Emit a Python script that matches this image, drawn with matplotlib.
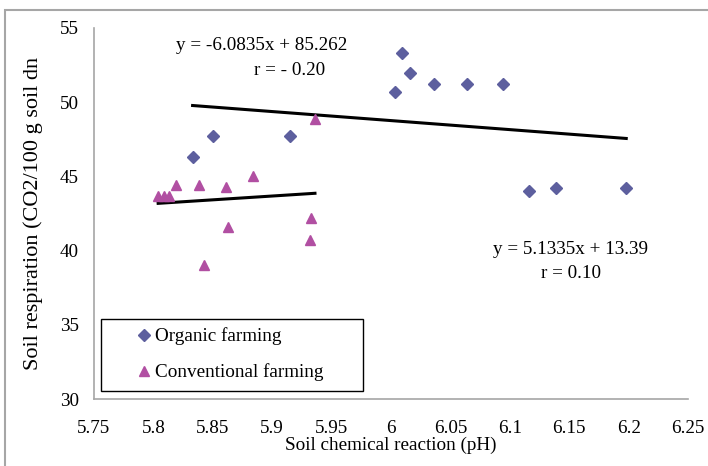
import numpy as np
import matplotlib.pyplot as plt
from matplotlib.patches import Rectangle

plt.rcParams['font.family'] = ['Liberation Serif', 'DejaVu Serif']

# --- data ---
org_ph = [5.833, 5.850, 5.915, 6.003, 6.009, 6.016, 6.036, 6.064, 6.094, 6.116, 6.139, 6.198]
org_resp = [46.3, 47.7, 47.7, 50.7, 53.3, 52.0, 51.2, 51.2, 51.2, 44.0, 44.2, 44.2]

conv_ph = [5.804, 5.809, 5.813, 5.819, 5.838, 5.861, 5.884, 5.936, 5.933, 5.932, 5.863, 5.843]
conv_resp = [43.7, 43.7, 43.7, 44.4, 44.4, 44.3, 45.0, 48.9, 42.2, 40.7, 41.6, 39.05]

# trend lines as printed on the chart
org_fit = (-6.0835, 85.262)
conv_fit = (5.1335, 13.39)

xticks = [5.75, 5.8, 5.85, 5.9, 5.95, 6, 6.05, 6.1, 6.15, 6.2, 6.25]
xtick_labels = ['5.75', '5.8', '5.85', '5.9', '5.95', '6', '6.05', '6.1', '6.15', '6.2', '6.25']
yticks = [30, 35, 40, 45, 50, 55]

fs = 13.8
grey = '#a6a6a6'

W, H = 708, 466
fig = plt.figure(figsize=(W / 100, H / 100), dpi=100)
ax = fig.add_axes([94 / W, 67 / H, 594 / W, 371 / H])

# outer chart frame
fig.patches.append(Rectangle((5 / W, -0.1), 1.2, 1 - 10 / H + 0.1, transform=fig.transFigure,
                             fill=False, edgecolor=grey, linewidth=1.5))

ax.plot(org_ph, org_resp, linestyle='none', marker='D', ms=6.5, color='#5d5f9e',
        label='Organic farming', zorder=3)
ax.plot(conv_ph, conv_resp, linestyle='none', marker='^', ms=7.5, color='#b14fa2',
        label='Conventional farming', zorder=3)

# trend lines over each series' range
for ph, (a, b) in [(org_ph, org_fit), (conv_ph, conv_fit)]:
    xs = np.array([min(ph), max(ph)])
    ax.plot(xs, a * xs + b, color='black', linewidth=2.2, zorder=2)

ax.set_xlim(5.75, 6.25)
ax.set_ylim(30, 55)
ax.set_xticks(xticks)
ax.set_xticklabels(xtick_labels)
ax.set_yticks(yticks)
ax.tick_params(length=0, labelsize=fs)
ax.tick_params(axis='x', pad=15)
ax.tick_params(axis='y', pad=11)

for s in ['top', 'right']:
    ax.spines[s].set_visible(False)
for s in ['left', 'bottom']:
    ax.spines[s].set_color(grey)
    ax.spines[s].set_linewidth(1.2)

ax.set_xlabel('Soil chemical reaction (pH)', fontsize=fs, labelpad=0)
ax.set_ylabel('Soil respiration (CO2/100 g soil dn', fontsize=16, labelpad=12)

ax.text(5.891, 53.8, 'y = -6.0835x + 85.262', fontsize=fs, ha='center', va='center')
ax.text(5.915, 52.15, 'r = - 0.20', fontsize=fs, ha='center', va='center')
ax.text(6.1515, 40.1, 'y = 5.1335x + 13.39', fontsize=fs, ha='center', va='center')
ax.text(6.1515, 38.45, 'r = 0.10', fontsize=fs, ha='center', va='center')

# legend: box drawn separately so it can be wider than its entries
ax.add_patch(Rectangle(((101 - 94) / 594, (399 - 391) / 371), 262 / 594, 72 / 371,
                       transform=ax.transAxes, fill=False, edgecolor='black',
                       linewidth=1.0, zorder=4, clip_on=False))
leg = ax.legend(loc='center left', bbox_to_anchor=((138 - 94) / 594, (399 - 354.5) / 371),
                fontsize=fs, frameon=False, borderpad=0, labelspacing=0.95,
                handlelength=0.6, handletextpad=0.3, borderaxespad=0)

fig.savefig('out.png', dpi=100)
